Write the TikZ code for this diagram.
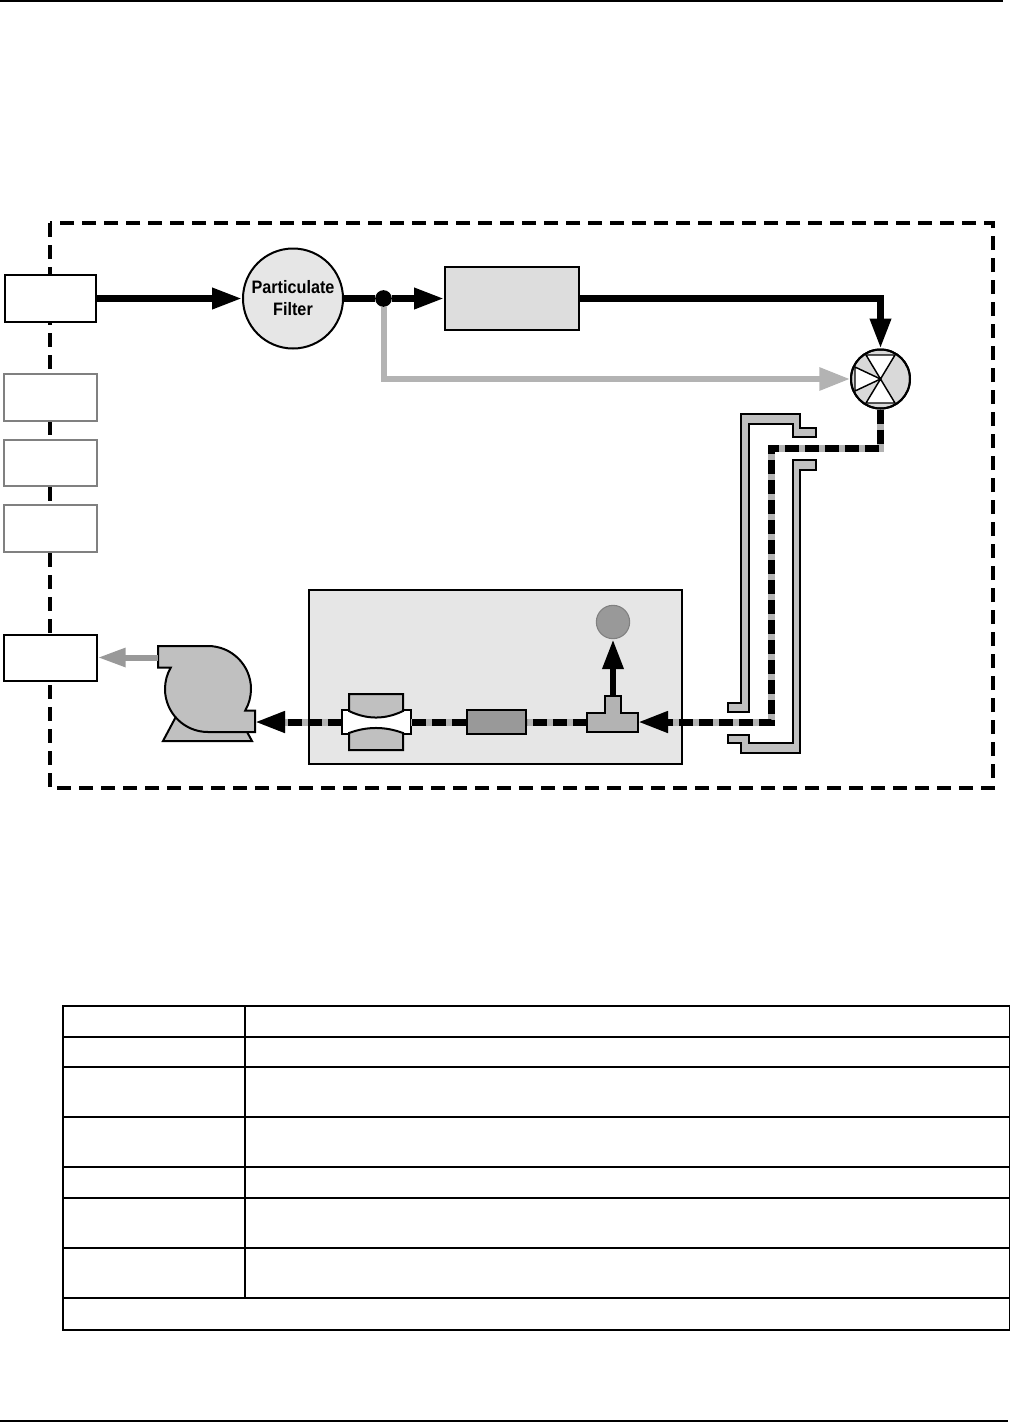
\documentclass[tikz,border=0pt]{standalone}
\usepackage{fontspec}
\setmainfont{Liberation Sans}
\usetikzlibrary{arrows.meta}
\definecolor{pipegray}{HTML}{B3B3B3}
\definecolor{pumpgray}{HTML}{C0C0C0}
\definecolor{boxgray}{HTML}{E6E6E6}
\definecolor{cellgray}{HTML}{DDDDDD}
\definecolor{darkgraytwo}{HTML}{999999}
\definecolor{valvegray}{HTML}{D9D9D9}
\definecolor{edgegray}{HTML}{808080}
\begin{document}
\begin{tikzpicture}[x=0.75pt,y=-0.75pt,
  flow/.style={line width=5pt, line join=miter},
  arr/.style={-{Triangle[length=22.5pt,width=15pt]}},
  grayflow/.style={line width=4.5pt, draw=pipegray, line join=miter},
  dashunder/.style={line width=5.25pt, line join=miter, draw=pipegray},
  flowdash/.style={line width=5.25pt, line join=miter, draw=black, dash pattern=on 10.5pt off 4.5pt},
  portbox/.style={draw=black, line width=1.1pt, fill=white, minimum width=68.25pt, minimum height=35.25pt, inner sep=0pt},
  ghostbox/.style={portbox, draw=edgegray},
  encl/.style={line width=3pt, dash pattern=on 10.5pt off 6pt},
  part/.style={draw=black, line width=1.5pt},
  rulestyle/.style={line width=1.1pt}
]
\useasboundingbox (0,0) rectangle (1011,1422);
% page rules
\draw[rulestyle] (0,1) -- (1003,1);
\draw[rulestyle] (0,1421) -- (1008,1421);

% enclosure
\draw[encl] (50,223) rectangle (993,788);

% left ports
\node[portbox] (box1) at (50.5,298.5) {};
\node[ghostbox, minimum width=69.75pt] (box2) at (50.5,397.5) {};
\node[ghostbox, minimum width=69.75pt, minimum height=34.5pt] (box3) at (50.5,463) {};
\node[ghostbox, minimum width=69.75pt] (box4) at (50.5,528.5) {};
\node[portbox, minimum width=69.75pt, minimum height=34.5pt] (box5) at (50.5,658) {};

% filter, junction, upper box
\node[circle, part, fill=boxgray, minimum size=75pt, inner sep=0pt, align=center,
      font=\fontsize{13.5pt}{16.5pt}\selectfont\bfseries] (filter) at (293,298.5)
      {\scalebox{0.9}[1]{Particulate}\\\scalebox{0.9}[1]{Filter}};
\node[circle, fill=black, minimum size=12.5pt, inner sep=0pt] (junc) at (383.5,298.5) {};
\node[rectangle, part, fill=cellgray, minimum width=100.5pt, minimum height=47.25pt, inner sep=0pt] (cell) at (512,298.5) {};

% valve
\node[circle, part, fill=valvegray, minimum size=44.25pt, inner sep=0pt] (valve) at (880.5,379) {};
\begin{scope}[line width=1.1pt, line join=miter]
\filldraw[fill=white] (866,355) -- (895,355) -- (valve.center) -- cycle;
\filldraw[fill=white] (866,403) -- (895,403) -- (valve.center) -- cycle;
\filldraw[fill=white] (855,367) -- (855,391) -- (valve.center) -- cycle;
\end{scope}
\draw[line width=1.5pt] (valve.center) circle[radius=22.125pt];

% tubing bands
\draw[line width=1.2pt, fill=pumpgray] (741,414) -- (800,414) -- (800,428) -- (816,428) -- (816,437) -- (793,437) -- (793,424) -- (749,424) -- (749,712) -- (728,712) -- (728,703) -- (741,703) -- cycle;
\draw[line width=1.2pt, fill=pumpgray] (728,735) -- (749,735) -- (749,743) -- (793,743) -- (793,460) -- (816,460) -- (816,470) -- (800,470) -- (800,753) -- (741,753) -- (741,743) -- (728,743) -- cycle;

% lower chamber
\node[rectangle, part, fill=boxgray, minimum width=279.75pt, minimum height=130.5pt, inner sep=0pt] (chamber) at (495.5,677) {};
\node[circle, draw=edgegray, line width=0.8pt, fill=darkgraytwo, minimum size=25pt, inner sep=0pt] (sensor) at (613,622) {};
% tee
\draw[part, fill=pipegray, line join=miter] (587,712.5) -- (605,712.5) -- (605,696) -- (621,696) -- (621,712.5) -- (638,712.5) -- (638,731.5) -- (587,731.5) -- cycle;
\coordinate (teeR) at (638,722);
\coordinate (teeL) at (587,722);
\coordinate (teeTop) at (613,697);
% dark element
\node[rectangle, part, fill=darkgraytwo, minimum width=44.25pt, minimum height=18pt, inner sep=0pt] (filt2) at (496.5,722) {};
% lens / orifice
\draw[line width=0.8pt, fill=white] (342,710) rectangle (411,734);
\draw[part, fill=pumpgray] (349,694) -- (403,694) -- (403,711) .. controls (385,719.7) and (367,719.7) .. (349,711) -- cycle;
\draw[part, fill=pumpgray] (349,750) -- (403,750) -- (403,733) .. controls (385,726.3) and (367,726.3) .. (349,733) -- cycle;
\coordinate (lensR) at (411,722);
\coordinate (lensL) at (342,722);

% pump
\draw[part, fill=pumpgray] (163,741) -- (252,741) -- (246,730) -- (180,709) -- cycle;
\draw[part, fill=pumpgray] (158,646) -- (208,646) arc[start angle=90, end angle=-30, radius=32.25pt] -- (255,710.5) -- (255,732) -- (208,732) arc[start angle=-90, end angle=-210, radius=32.25pt] -- (158,667.5) -- cycle;
\coordinate (pumpin) at (255,722);
\coordinate (pumpout) at (158,657.5);

% connectors
\draw[flow, arr] (box1.east) -- (filter.west);
\draw[grayflow, -{Triangle[length=23pt,width=16.5pt]}] (junc.south) |- (valve.west);
\draw[flow] (filter.east) -- (junc.west);
\draw[flow, arr] (junc.east) -- (cell.west);
\draw[flow, arr] (cell.east) -| (valve.north);
\coordinate (d2) at (771,448);
\coordinate (d3) at (771,722);
\draw[dashunder, arr] (valve.south) |- (d2) -- (d3) -- (teeR);
\draw[flowdash, arr] (valve.south) |- (d2) -- (d3) -- (teeR);
\draw[dashunder] (teeL) -- (filt2.east);
\draw[flowdash] (teeL) -- (filt2.east);
\draw[dashunder] (filt2.west) -- (lensR);
\draw[flowdash] (filt2.west) -- (lensR);
\draw[dashunder, arr] (lensL) -- (pumpin);
\draw[flowdash, arr] (lensL) -- (pumpin);
\draw[flow, arr] (teeTop) -- (sensor.south);
\draw[line width=4.5pt, draw=darkgraytwo, -{Triangle[length=21pt,width=13.5pt]}] (pumpout) -- (pumpout -| box5.east);

% table
\draw[rulestyle] (63,1006) rectangle (1009.5,1330);
\foreach \yy in {1037,1067,1117,1167,1198,1248,1298} \draw[rulestyle] (63,\yy) -- (1009.5,\yy);
\draw[rulestyle] (245,1006) -- (245,1298);
\end{tikzpicture}
\end{document}
